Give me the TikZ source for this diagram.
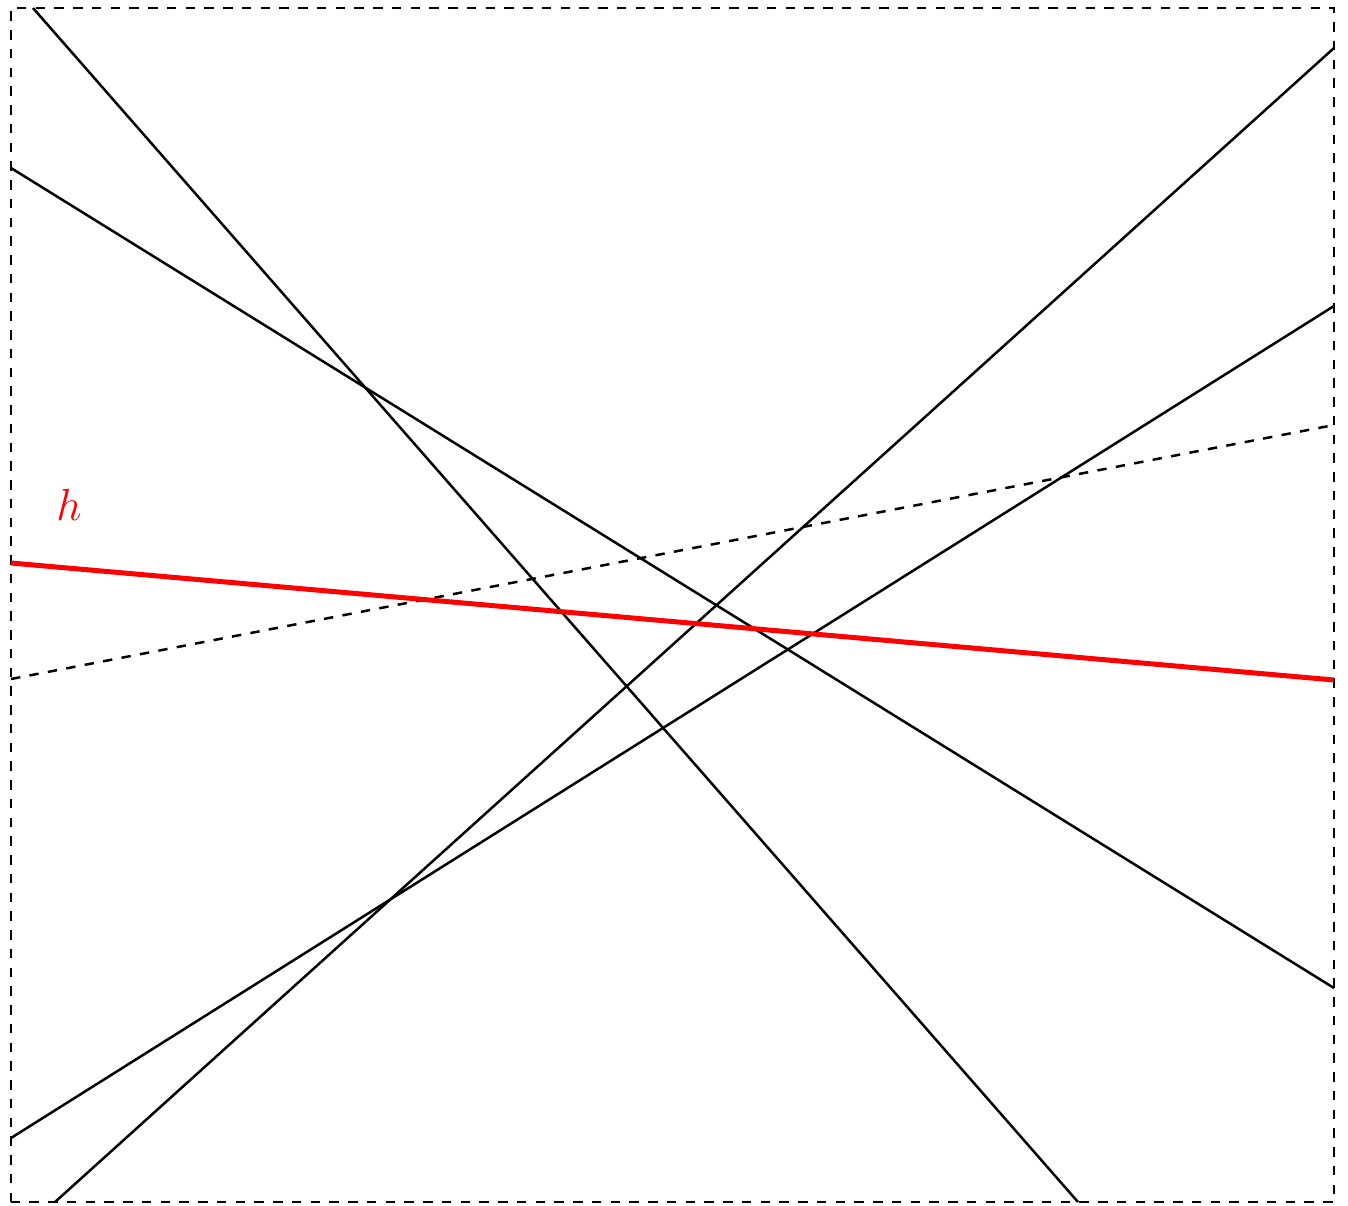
\documentclass[tikz,border=0pt]{standalone}
\begin{document}
\begin{tikzpicture}[x=0.32pt,y=-0.32pt,
  frame/.style={draw=black,thin,dashed},
  ln/.style={draw=black,thick},
  dln/.style={draw=black,thick,dashed},
  hline/.style={draw=red,line width=1.6pt},
  lab/.style={text=red,font=\Large}]
\useasboundingbox (0,0) rectangle (1348,1205);
\coordinate (bl) at (11,1202);
\coordinate (tr) at (1334,8);
\draw[frame] (bl) rectangle (tr);
% lines
\coordinate (a1) at (33,8);     \coordinate (a2) at (1078,1202);
\coordinate (b1) at (11,168);   \coordinate (b2) at (1334,988);
\coordinate (c1) at (55,1202);  \coordinate (c2) at (1334,48);
\coordinate (d1) at (11,1138);  \coordinate (d2) at (1334,306);
\coordinate (e1) at (11,679);   \coordinate (e2) at (1334,425);
\coordinate (f1) at (11,563);   \coordinate (f2) at (1334,680);
\draw[ln] (a1) -- (a2);
\draw[ln] (b1) -- (b2);
\draw[ln] (c1) -- (c2);
\draw[ln] (d1) -- (d2);
\draw[dln] (e1) -- (e2);
\draw[hline] (f1) -- (f2);
\node[lab] (h) at (69,505) {$h$};
\end{tikzpicture}
\end{document}
